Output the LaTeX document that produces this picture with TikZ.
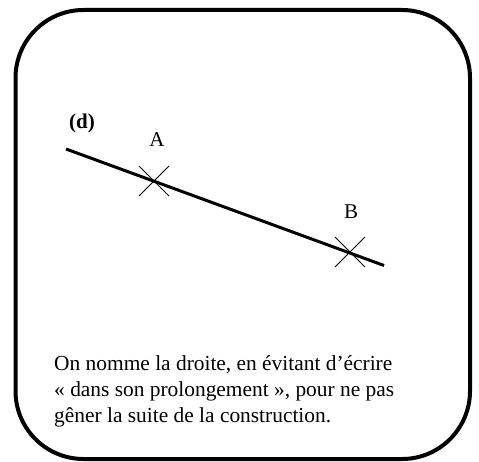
\documentclass[tikz,border=0pt]{standalone}
\usepackage{fontspec}
\setmainfont{Liberation Serif}
\usetikzlibrary{shapes.misc}
\tikzset{
  pointcross/.style={draw, cross out, line width=1pt, minimum size=29pt, inner sep=0pt},
  ptlabel/.style={font=\fontsize{21}{25}\selectfont, inner sep=0pt, anchor=base}
}
\begin{document}
\begin{tikzpicture}[x=1pt,y=-1pt]
        \useasboundingbox (0,0) rectangle (479,462);
        % cadre
        \draw[line width=4pt, rounded corners=68pt] (15.5,10) rectangle (470,459);

        % la droite (d)
        \coordinate (d1) at (66,149);
        \coordinate (d2) at (384,265.5);
        \draw[line width=3pt] (d1) -- (d2);
        \node[font=\fontsize{21}{25}\selectfont\bfseries, inner sep=0pt] (nomd) at (82,123) {(d)};

        % les points
        \node[pointcross] (A) at (154,181) {};
        \node[pointcross] (B) at (350,252) {};
        \node[ptlabel] (labA) at (157,147) {A};
        \node[ptlabel] (labB) at (351,219) {B};

        % texte
        \node[anchor=north west, inner sep=0pt, align=left,
              font=\fontsize{21.4}{26}\selectfont] (texte) at (54,355)
          {On nomme la droite, en évitant d’écrire\\
           « dans son prolongement », pour ne pas\\
           gêner la suite de la construction.};
    \end{tikzpicture}
\end{document}
